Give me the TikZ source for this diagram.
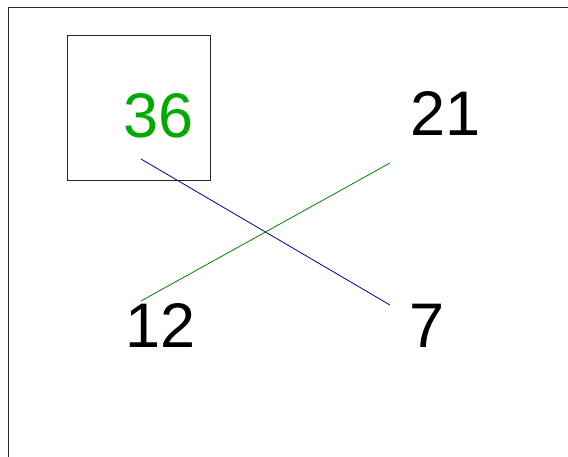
\documentclass[tikz,border=0pt]{standalone}
\usepackage{fontspec}
\setmainfont{Liberation Sans}
\definecolor{numgreen}{RGB}{0,170,0}
\definecolor{linegreen}{RGB}{0,128,0}
\definecolor{lineblue}{RGB}{0,0,140}
\tikzset{
  num/.style={anchor=base west,inner sep=0pt,font=\fontsize{63}{63}\selectfont},
  frame/.style={line width=1pt,black!85}
}
\begin{document}
\begin{tikzpicture}[x=1pt,y=-1pt]
\useasboundingbox (0,0) rectangle (568,456);
% 外框
\draw[frame] (8,460) -- (8,7) -- (572,7);
\draw[frame] (67,35) rectangle (210,180);
% 数字
\node[num,text=numgreen] (n36) at (123,137) {36};
\node[num] (n21) at (410,135) {21};
\node[num] (n12) at (125,347) {12};
\node[num] (n7) at (409,347) {7};
% 连线
\coordinate (c36) at (141,159);
\coordinate (c7) at (390,305);
\coordinate (c12) at (141,301);
\coordinate (c21) at (390,163);
\draw[lineblue,line width=0.8pt] (c36) -- (c7);
\draw[linegreen,line width=0.8pt] (c12) -- (c21);
\end{tikzpicture}
\end{document}
